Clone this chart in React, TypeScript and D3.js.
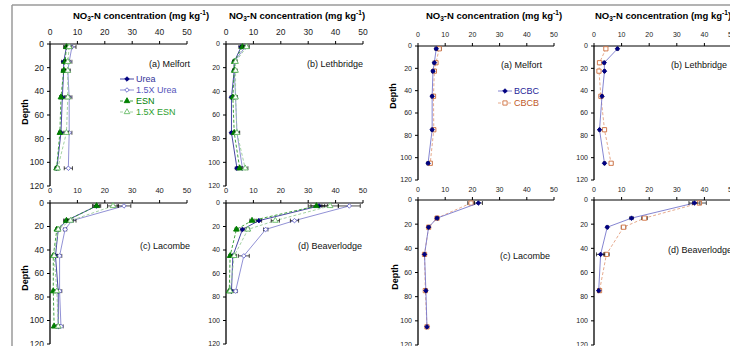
import { useEffect, useRef } from 'react';
import * as d3 from 'd3';

// sampling depths (cm) and axis ticks
const depths = [2.5, 15, 22.5, 45, 75, 105];
const xTicks = [0, 10, 20, 30, 40, 50];
const yTicks = [0, 20, 40, 60, 80, 100, 120];

// Fertilizer panels (left half): Urea, 1.5X Urea, ESN, 1.5X ESN
const melfortUrea = [6, 5, 5, 4.5, 4, 2.5];
const melfortUrea15 = [8, 7, 6.5, 7, 7, 6.7];
const melfortEsn = [6, 5.5, 5, 4, 3.6, 2.4];
const melfortEsn15 = [7, 6.5, 6.5, 6.5, 6, 2.8];
const melfortUreaErr = [1, 0.8, 0.8, 0.8, 0.8, 0.6];
const melfortUrea15Err = [1.5, 1, 0.8, 1, 1, 1.5];
const melfortEsnErr = [0.8, 0.6, 0.5, 0.5, 0.5, 0.5];
const melfortEsn15Err = [1, 0.8, 0.8, 0.8, 0.8, 0.6];

const lethUrea = [5.5, 3, 3, 2, 2, 4];
const lethUrea15 = [7, 3, 3, 3.5, 4, 6];
const lethEsn = [6, 3, 3, 2.5, 3, 5];
const lethEsn15 = [7.5, 3.5, 3.5, 3.5, 4, 7];
const lethUreaErr = [0.8, 0.5, 0.5, 0.5, 0.5, 0.6];
const lethUrea15Err = [1, 0.6, 0.6, 0.6, 1, 1];
const lethEsnErr = [0.8, 0.5, 0.5, 0.5, 0.5, 0.6];
const lethEsn15Err = [1, 0.6, 0.6, 0.6, 0.8, 1];

const lacUrea = [17, 6, 3, 2, 3, 3];
const lacUrea15 = [27, 8, 5.5, 3.5, 3.5, 4];
const lacEsn = [17, 6, 2.5, 1.2, 1.2, 1.5];
const lacEsn15 = [23, 7.5, 3, 1.5, 2.5, 3];
const lacUreaErr = [1.5, 1, 0.6, 0.6, 0.6, 0.6];
const lacUrea15Err = [2.5, 1.5, 0.6, 0.8, 0.8, 0.8];
const lacEsnErr = [1, 0.8, 0.5, 0.4, 0.4, 0.4];
const lacEsn15Err = [2, 1, 0.6, 0.5, 0.5, 0.5];

const beavUrea = [34, 12, 6, 2.5, 2];
const beavUrea15 = [45, 25, 14.5, 6.5, 3.5];
const beavEsn = [33, 9.5, 3.8, 1.5, 1.2];
const beavEsn15 = [38, 18, 8, 3, 1.5];
const beavUreaErr = [3, 1, 0.6, 0.8, 0.5];
const beavUrea15Err = [4, 1.5, 0.8, 2, 0.6];
const beavEsnErr = [3, 0.8, 0.5, 0.5, 0.4];
const beavEsn15Err = [3, 1.5, 0.6, 0.8, 0.4];

// Rotation panels (right half): BCBC, CBCB
const melfortBcbc = [6.7, 6, 5.5, 5.2, 5.2, 3.7];
const melfortCbcb = [7.8, 6.6, 6, 5.7, 5.8, 4.5];
const melfortBcbcErr = [0.5, 0.5, 0.5, 0.4, 0.4, 0.5];
const melfortCbcbErr = [0.8, 0.6, 0.6, 0.5, 0.5, 0.6];

const lethBcbc = [8.5, 3.7, 3.8, 2.9, 2, 3.8];
const lethCbcb = [4.3, 2, 1.8, 2.5, 3.8, 6.2];
const lethBcbcErr = [0.4, 0.4, 0.3, 0.3, 0.3, 0.4];
const lethCbcbErr = [0.5, 0.4, 0.4, 0.4, 0.5, 0.6];

const lacBcbc = [22.2, 7, 3.9, 2.4, 2.9, 3.3];
const lacCbcb = [19.5, 7, 3.9, 2.4, 2.7, 3.3];
const lacBcbcErr = [1.5, 0.5, 0.4, 0.3, 0.3, 0.3];
const lacCbcbErr = [1.2, 0.5, 0.4, 0.3, 0.3, 0.3];

const beavBcbc = [36.4, 13.6, 4.8, 2.4, 1.7];
const beavCbcb = [38.2, 18.3, 10.7, 4.5, 2];
const beavBcbcErr = [2, 0.6, 0.4, 1.5, 0.4];
const beavCbcbErr = [2.5, 1, 0.8, 1, 0.4];

type Style = { name: string; line: string; dash: string | null; marker: 'diamond' | 'triangle' | 'square'; fill: string; stroke: string; text: string };

const fertStyles: Style[] = [
  { name: 'Urea', line: '#333399', dash: null, marker: 'diamond', fill: '#000080', stroke: '#000080', text: '#333399' },
  { name: '1.5X Urea', line: '#8484D0', dash: null, marker: 'diamond', fill: '#ffffff', stroke: '#6666CC', text: '#5555BB' },
  { name: 'ESN', line: '#2E9A2E', dash: '3,2', marker: 'triangle', fill: '#008000', stroke: '#008000', text: '#008000' },
  { name: '1.5X ESN', line: '#99CC99', dash: '3,2', marker: 'triangle', fill: '#ffffff', stroke: '#66BB66', text: '#2EA02E' },
];

const rotStyles: Style[] = [
  { name: 'BCBC', line: '#7777CC', dash: null, marker: 'diamond', fill: '#000080', stroke: '#000080', text: '#1F1F99' },
  { name: 'CBCB', line: '#E3A080', dash: '3,2', marker: 'square', fill: '#ffffff', stroke: '#D07040', text: '#C05A28' },
];

type Panel = {
  label: string; values: number[][]; errors: number[][]; styles: Style[]; reverse?: boolean;
  x0: number; x1: number; y0: number; y1: number; tickY: number; yFont: number; xFont: number;
  title?: number; lab: [number, number, string]; depth?: [number, number]; legend?: [number, number];
};

const panels: Panel[] = [
  { label: '(a) Melfort', values: [melfortUrea, melfortUrea15, melfortEsn, melfortEsn15], errors: [melfortUreaErr, melfortUrea15Err, melfortEsnErr, melfortEsn15Err], styles: fertStyles,
    x0: 50, x1: 187, y0: 44, y1: 186, tickY: 35, yFont: 8.5, xFont: 8.5, title: 141, lab: [190, 64, 'end'], depth: [25, 112], legend: [120, 79] },
  { label: '(b) Lethbridge', values: [lethUrea, lethUrea15, lethEsn, lethEsn15], errors: [lethUreaErr, lethUrea15Err, lethEsnErr, lethEsn15Err], styles: fertStyles,
    x0: 226, x1: 363, y0: 44, y1: 186, tickY: 35, yFont: 7, xFont: 8.5, title: 297, lab: [363, 64, 'end'] },
  { label: '(c) Lacombe', values: [lacUrea, lacUrea15, lacEsn, lacEsn15], errors: [lacUreaErr, lacUrea15Err, lacEsnErr, lacEsn15Err], styles: fertStyles,
    x0: 50, x1: 187, y0: 203, y1: 344, tickY: 193, yFont: 8.5, xFont: 7.5, lab: [190, 246, 'end'], depth: [25, 278] },
  { label: '(d) Beaverlodge', values: [beavUrea, beavUrea15, beavEsn, beavEsn15], errors: [beavUreaErr, beavUrea15Err, beavEsnErr, beavEsn15Err], styles: fertStyles,
    x0: 226, x1: 363, y0: 203, y1: 344, tickY: 193, yFont: 7, xFont: 7.5, lab: [362, 246, 'end'] },
  { label: '(a) Melfort', values: [melfortBcbc, melfortCbcb], errors: [melfortBcbcErr, melfortCbcbErr], styles: rotStyles, reverse: true,
    x0: 418, x1: 554, y0: 46, y1: 180, tickY: 37, yFont: 7, xFont: 7, title: 494, lab: [542, 65, 'end'], depth: [393, 96], legend: [498, 91] },
  { label: '(b) Lethbridge', values: [lethBcbc, lethCbcb], errors: [lethBcbcErr, lethCbcbErr], styles: rotStyles, reverse: true,
    x0: 594, x1: 732, y0: 46, y1: 180, tickY: 37, yFont: 7, xFont: 7, title: 663, lab: [671, 65, 'start'] },
  { label: '(c) Lacombe', values: [lacBcbc, lacCbcb], errors: [lacBcbcErr, lacCbcbErr], styles: rotStyles, reverse: true,
    x0: 418, x1: 554, y0: 200, y1: 345, tickY: 192, yFont: 7, xFont: 7, lab: [550, 256, 'end'], depth: [395, 277] },
  { label: '(d) Beaverlodge', values: [beavBcbc, beavCbcb], errors: [beavBcbcErr, beavCbcbErr], styles: rotStyles, reverse: true,
    x0: 594, x1: 732, y0: 200, y1: 345, tickY: 192, yFont: 7, xFont: 7, lab: [668, 250, 'start'] },
];

const FONT = 'Liberation Sans, Arial, sans-serif';

function drawMarker(g: any, s: Style, x: number, y: number) {
  const type = s.marker === 'diamond' ? (d3 as any).symbolDiamond2 || d3.symbolDiamond : s.marker === 'triangle' ? d3.symbolTriangle : d3.symbolSquare;
  const size = s.marker === 'diamond' ? 13 : s.marker === 'triangle' ? 14 : 18;
  g.append('path')
    .attr('d', d3.symbol().type(type).size(size)())
    .attr('transform', `translate(${x},${y})`)
    .attr('fill', s.fill)
    .attr('stroke', s.stroke)
    .attr('stroke-width', 0.9);
}

export default function App() {
  const ref = useRef<SVGSVGElement | null>(null);

  useEffect(() => {
    const svg = d3.select(ref.current);
    svg.selectAll('*').remove();
    svg.append('rect').attr('width', 730).attr('height', 346).attr('fill', '#fff');

    // outer frame
    svg.append('line').attr('x1', 12).attr('x2', 730).attr('y1', 5).attr('y2', 5).attr('stroke', '#9a9a9a').attr('stroke-width', 1.5);
    svg.append('line').attr('x1', 12).attr('x2', 12).attr('y1', 5).attr('y2', 346).attr('stroke', '#9a9a9a').attr('stroke-width', 1.5);

    panels.forEach(p => {
      const x = d3.scaleLinear().domain([0, 50]).range([p.x0, p.x1]);
      const y = d3.scaleLinear().domain([0, 120]).range([p.y0, p.y1]);
      const g = svg.append('g').attr('font-family', FONT);

      // axes
      g.append('line').attr('x1', p.x0).attr('x2', p.x1).attr('y1', p.y0).attr('y2', p.y0).attr('stroke', '#000');
      g.append('line').attr('x1', p.x0).attr('x2', p.x0).attr('y1', p.y0).attr('y2', p.y1).attr('stroke', '#000').attr('stroke-width', 1.3);
      xTicks.forEach(t => {
        g.append('line').attr('x1', x(t)).attr('x2', x(t)).attr('y1', p.y0).attr('y2', p.y0 - 3).attr('stroke', '#000');
        g.append('text').attr('x', x(t)).attr('y', p.tickY).attr('text-anchor', 'middle').attr('font-size', p.xFont).attr('fill', '#222').text(t);
      });
      yTicks.forEach(t => {
        g.append('line').attr('x1', p.x0 - 3).attr('x2', p.x0).attr('y1', y(t)).attr('y2', y(t)).attr('stroke', '#000');
        g.append('text').attr('x', p.x0 - 6).attr('y', y(t)).attr('dy', '0.35em').attr('text-anchor', 'end').attr('font-size', p.yFont).attr('fill', '#222').text(t);
      });

      if (p.title !== undefined) {
        const tt = g.append('text').attr('x', p.title).attr('y', 19).attr('text-anchor', 'middle').attr('font-size', 9.5).attr('font-weight', 'bold');
        tt.append('tspan').text('NO');
        tt.append('tspan').attr('dy', 2).attr('font-size', 6.5).text('3');
        tt.append('tspan').attr('dy', -2).text('-N concentration (mg kg');
        tt.append('tspan').attr('dy', -4).attr('font-size', 6.5).text('-1');
        tt.append('tspan').attr('dy', 4).text(')');
      }
      if (p.depth) {
        g.append('text').attr('transform', `translate(${p.depth[0]},${p.depth[1]}) rotate(-90)`)
          .attr('text-anchor', 'middle').attr('dy', '0.35em').attr('font-size', 9).attr('font-weight', 'bold').text('Depth');
      }
      g.append('text').attr('x', p.lab[0]).attr('y', p.lab[1]).attr('dy', '0.35em').attr('text-anchor', p.lab[2])
        .attr('font-size', 9).attr('fill', '#111').text(p.label);

      // series (rotation panels draw BCBC last so it sits on top)
      const order = p.values.map((_, i) => i);
      if (p.reverse) order.reverse();
      order.forEach(si => {
        const s = p.styles[si];
        const pts = p.values[si].map((v, i) => ({ v, d: depths[i], e: p.errors[si][i] }));
        const line = d3.line<{ v: number; d: number }>().x(d => x(d.v)).y(d => y(d.d));
        g.append('path').attr('d', line(pts)).attr('fill', 'none').attr('stroke', s.line).attr('stroke-width', 0.9)
          .attr('stroke-dasharray', s.dash);
        pts.forEach(pt => {
          const yy = y(pt.d);
          g.append('line').attr('x1', x(pt.v - pt.e)).attr('x2', x(pt.v + pt.e)).attr('y1', yy).attr('y2', yy).attr('stroke', '#000').attr('stroke-width', 0.7);
          [pt.v - pt.e, pt.v + pt.e].forEach(ev => {
            g.append('line').attr('x1', x(ev)).attr('x2', x(ev)).attr('y1', yy - 2).attr('y2', yy + 2).attr('stroke', '#000').attr('stroke-width', 0.7);
          });
        });
        pts.forEach(pt => drawMarker(g, s, x(pt.v), y(pt.d)));
      });

      // legend
      if (p.legend) {
        const step = p.styles.length > 2 ? 11 : 12;
        p.styles.forEach((s, i) => {
          const ly = p.legend![1] + i * step;
          const lx = p.legend![0];
          g.append('line').attr('x1', lx).attr('x2', lx + 14).attr('y1', ly).attr('y2', ly).attr('stroke', s.line).attr('stroke-width', 0.9).attr('stroke-dasharray', s.dash);
          drawMarker(g, s, lx + 7, ly);
          g.append('text').attr('x', lx + 16).attr('y', ly).attr('dy', '0.35em').attr('font-size', 9).attr('fill', s.text).text(s.name);
        });
      }
    });
  }, []);

  return (
    <div>
      <svg ref={ref} width={730} height={346} style={{ position: 'absolute', left: 0, top: 0, display: 'block' }} />
    </div>
  );
}
